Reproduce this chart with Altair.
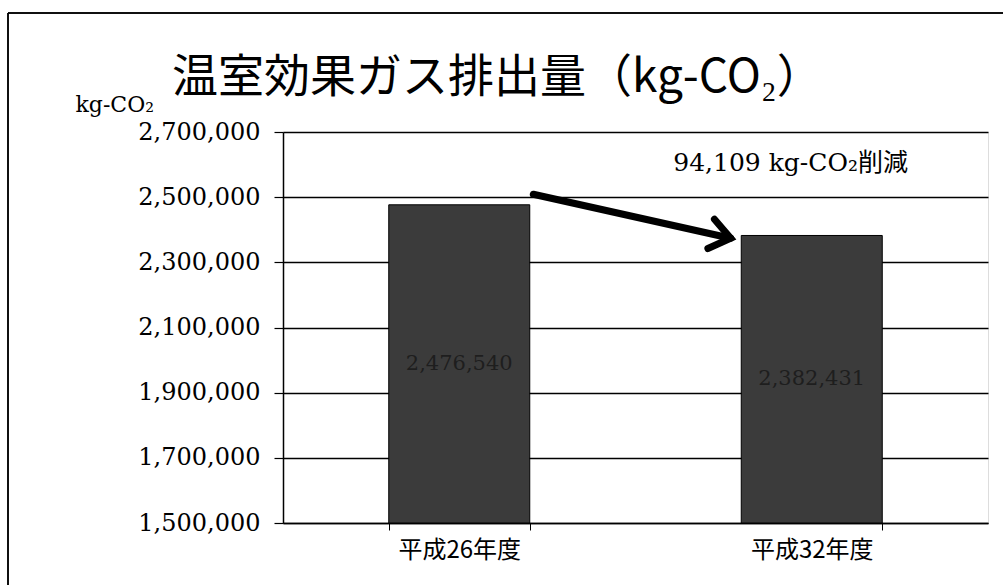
import altair as alt
import pandas as pd

# ---- data ----
categories = ["平成26年度", "平成32年度"]
values = [2476540, 2382431]
baseline = 1500000
y_ticks = [1500000, 1700000, 1900000, 2100000, 2300000, 2500000, 2700000]

# arrow (x in category units: 0..2 spans the two bands)
arrow_x = [0.71, 1.27]
arrow_y = [2508900, 2374000]
note_text = ["94,109 kg-CO₂削減"]
note_x = [1.44]
note_y = [2604000]

title_text = "温室効果ガス排出量（kg-CO₂）"
y_unit = "kg-CO₂"

serif = "DejaVu Serif, Noto Sans CJK JP"
jp = "Noto Sans CJK JP"

bars_df = pd.DataFrame({"cat": categories, "value": values, "base": [baseline] * len(values)})
arrow_df = pd.DataFrame({"x": arrow_x, "y": arrow_y, "order": [0, 1]})
head_df = pd.DataFrame({"x": [arrow_x[-1]], "y": [arrow_y[-1]]})
note_df = pd.DataFrame({"x": note_x, "y": note_y, "t": note_text})

y_scale = alt.Scale(domain=[1500000, 2700000], nice=False, zero=False)
x_band = alt.Scale(paddingInner=0.6, paddingOuter=0.3)

x_axis = alt.Axis(title=None, labelAngle=0, tickBand="extent", labelFont=jp,
                  labelFontSize=24, labelColor="black", domainColor="black",
                  domainWidth=1.5, tickColor="black", tickSize=7, labelPadding=8,
                  grid=False)

y_axis = alt.Axis(values=y_ticks, format=",.0f", title=y_unit, titleAngle=0,
                  titleAlign="left", titleBaseline="bottom", titleX=-208, titleY=-16,
                  titleFont=serif, titleFontSize=22, titleFontWeight="normal",
                  titleColor="black",
                  labelFont=serif, labelFontSize=24, labelColor="black",
                  labelPadding=14, tickSize=9, tickColor="black", tickWidth=1.2,
                  domainColor="black", domainWidth=1.5,
                  grid=True, gridColor="black", gridWidth=1.4)

bars = alt.Chart(bars_df).mark_bar(color="#3b3b3b", stroke="black", strokeWidth=1).encode(
    x=alt.X("cat:N", sort=categories, scale=x_band, axis=x_axis),
    y=alt.Y("value:Q", scale=y_scale, axis=y_axis),
    y2="base:Q",
)

labels = alt.Chart(bars_df).transform_calculate(
    mid="(datum.value + datum.base) / 2",
    lab="format(datum.value, ',')",
).mark_text(font=serif, fontSize=21, color="#1e1e1e").encode(
    x=alt.X("cat:N", sort=categories, scale=x_band, axis=x_axis),
    y=alt.Y("mid:Q", scale=y_scale, axis=y_axis),
    text="lab:N",
)

base_layer = alt.layer(bars, labels)

x_q = alt.Scale(domain=[0, 2], nice=False, zero=False)

arrow_line = alt.Chart(arrow_df).mark_line(color="black", strokeWidth=7, strokeCap="round").encode(
    x=alt.X("x:Q", scale=x_q, axis=None),
    y=alt.Y("y:Q", scale=y_scale, axis=y_axis),
    order="order:Q",
)

arrow_head = alt.Chart(head_df).mark_point(
    shape="M -1 -0.75 L 0 0 L -1 0.75", filled=False, stroke="black", strokeWidth=7,
    strokeCap="round", strokeJoin="miter", size=1600, angle=12.6, opacity=1
).encode(
    x=alt.X("x:Q", scale=x_q, axis=None),
    y=alt.Y("y:Q", scale=y_scale, axis=y_axis),
)

note = alt.Chart(note_df).mark_text(font=serif, fontSize=25, color="black").encode(
    x=alt.X("x:Q", scale=x_q, axis=None),
    y=alt.Y("y:Q", scale=y_scale, axis=y_axis),
    text="t:N",
)

frame_left = alt.Chart(bars_df).mark_rule(color="black", strokeWidth=1.5).encode(
    x=alt.value(-275), y=alt.value(-119), y2=alt.value(460)
)
frame_top = alt.Chart(bars_df).mark_rule(color="black", strokeWidth=1.5).encode(
    x=alt.value(-275), x2=alt.value(725), y=alt.value(-119)
)

annot_layer = alt.layer(arrow_line, arrow_head, note, frame_left, frame_top)

chart = alt.layer(base_layer, annot_layer).resolve_scale(
    x="independent"
).properties(
    width=705, height=391,
    autosize=alt.AutoSizeParams(type="none"),
    padding={"left": 283, "top": 132, "right": 15, "bottom": 62},
    title=alt.TitleParams(title_text, font=jp, fontSize=46, fontWeight="normal",
                          color="black", anchor="start", frame="group", dx=-111,
                          offset=0, dy=90),
).configure_view(strokeWidth=0, stroke="transparent").configure(background="white")

chart.save("out.html", embed_options={"renderer": "svg", "actions": False})
